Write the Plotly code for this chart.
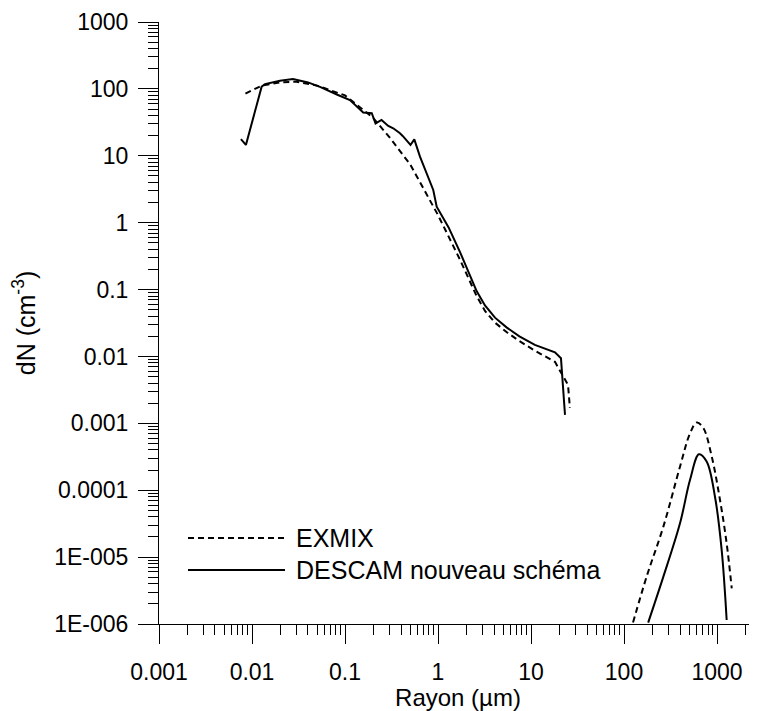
import plotly.graph_objects as go

# EXMIX (dashed) - aerosol mode
exmix_r1 = [0.0085, 0.0127, 0.02, 0.03, 0.05, 0.1, 0.2, 0.3, 0.5, 1.0, 1.73, 2.21, 2.6, 3.2, 4.1, 5.5, 7.5, 11.0, 18.1, 25.0, 26.2]
exmix_n1 = [85, 112, 125, 128, 112, 80, 37, 19, 7.5, 1.3, 0.277, 0.13, 0.08, 0.048, 0.032, 0.023, 0.017, 0.0122, 0.0083, 0.00375, 0.0017]
# EXMIX (dashed) - drop mode
exmix_r2 = [125, 175, 265, 400, 513, 605, 713, 877, 1076, 1270, 1440]
exmix_n2 = [1.05e-6, 5.1e-6, 2.86e-5, 2.25e-4, 7.1e-4, 1.03e-3, 8.5e-4, 3.2e-4, 7.2e-5, 1.6e-5, 3.4e-6]

# DESCAM nouveau schema (solid) - aerosol mode
descam_r1 = [0.0076, 0.0086, 0.0127, 0.0138, 0.02, 0.0276, 0.04, 0.0538, 0.084, 0.113, 0.157, 0.194,
             0.213, 0.247, 0.292, 0.330, 0.390, 0.417, 0.506, 0.556, 0.640, 0.755, 0.889, 0.968,
             1.3, 1.73, 2.21, 2.6, 3.2, 4.1, 5.5, 7.5, 11.0, 18.1, 21.0, 23.2]
descam_n1 = [17.8, 14.5, 108, 118, 132, 141, 125, 107, 81, 68, 44.4, 43.2,
             30.4, 34.3, 27.9, 25.8, 21.7, 19.8, 14.5, 17.6, 9.7, 5.5, 3.08, 1.73,
             0.85, 0.36, 0.16, 0.095, 0.058, 0.038, 0.027, 0.02, 0.0149, 0.0115, 0.0094, 0.00134]
# DESCAM nouveau schema (solid) - drop mode
descam_r2 = [182, 265, 400, 513, 640, 774, 951, 1122, 1270]
descam_n2 = [1.05e-6, 5.1e-6, 3.2e-5, 1.43e-4, 3.45e-4, 2.68e-4, 8.0e-5, 1.28e-5, 1.15e-6]

x_tickvals = [0.001, 0.01, 0.1, 1, 10, 100, 1000]
x_ticktext = ["0.001", "0.01", "0.1", "1", "10", "100", "1000"]
y_tickvals = [1e-6, 1e-5, 1e-4, 1e-3, 1e-2, 1e-1, 1, 10, 100, 1000]
y_ticktext = ["1E-006", "1E-005", "0.0001", "0.001", "0.01", "0.1", "1", "10", "100", "1000"]

legend_names = ["EXMIX", "DESCAM nouveau schéma"]

FONT = "Liberation Sans, Arial, sans-serif"

fig = go.Figure()
line_dash = dict(color="black", width=2, dash="6px,4px")
line_solid = dict(color="black", width=2)
line_dash_s = dict(color="black", width=2, dash="6px,4px", shape="spline", smoothing=1)
line_solid_s = dict(color="black", width=2, shape="spline", smoothing=1)
fig.add_trace(go.Scatter(x=exmix_r1, y=exmix_n1, mode="lines", line=line_dash, name=legend_names[0], showlegend=False))
fig.add_trace(go.Scatter(x=exmix_r2, y=exmix_n2, mode="lines", line=line_dash_s, name=legend_names[0], showlegend=False))
fig.add_trace(go.Scatter(x=descam_r1, y=descam_n1, mode="lines", line=line_solid, name=legend_names[1], showlegend=False))
fig.add_trace(go.Scatter(x=descam_r2, y=descam_n2, mode="lines", line=line_solid_s, name=legend_names[1], showlegend=False))

def minor_vals(lo, hi):
    vals = []
    for e in range(lo, hi + 1):
        for m in range(2, 10):
            vals.append(m * 10.0 ** e)
    return vals

fig.update_xaxes(
    type="log", range=[-3, 3.43],
    tickmode="array", tickvals=x_tickvals, ticktext=x_ticktext,
    ticks="outside", ticklen=19, tickwidth=1, tickcolor="black",
    showline=True, linecolor="black", linewidth=1,
    showgrid=False, zeroline=False, automargin=False,
    ticklabelstandoff=8,
    minor=dict(tickmode="array", tickvals=minor_vals(-3, 3), ticks="outside", ticklen=10,
               tickwidth=1, tickcolor="black", showgrid=False),
    tickfont=dict(family=FONT, size=23, color="black"),
    title=dict(text="Rayon (µm)", font=dict(family=FONT, size=24, color="black"), standoff=2),
)
fig.update_yaxes(
    type="log", range=[-6, 3],
    tickmode="array", tickvals=y_tickvals, ticktext=y_ticktext,
    ticks="outside", ticklen=20, tickwidth=1, tickcolor="black",
    showline=True, linecolor="black", linewidth=1,
    showgrid=False, zeroline=False, automargin=False,
    ticklabelstandoff=5,
    minor=dict(tickmode="array", tickvals=minor_vals(-6, 2), ticks="outside", ticklen=10,
               tickwidth=1, tickcolor="black", showgrid=False),
    tickfont=dict(family=FONT, size=23, color="black"),
    title=dict(text="dN (cm<sup>-3</sup>)", font=dict(family=FONT, size=25, color="black"), standoff=18),
)

# legend drawn manually (long line samples)
leg_y = [0.1429, 0.0897]
for i in range(2):
    fig.add_shape(type="line", xref="paper", yref="paper", x0=0.0485, x1=0.2107, y0=leg_y[i], y1=leg_y[i],
                  line=dict(color="black", width=2, dash=("6px,4px" if i == 0 else "solid")))
    fig.add_annotation(xref="paper", yref="paper", x=0.2258, y=leg_y[i], text=legend_names[i],
                       showarrow=False, xanchor="left", yanchor="middle",
                       font=dict(family=FONT, size=25, color="black"))

fig.update_layout(
    width=749, height=703,
    margin=dict(l=151, r=0, t=14, b=87),
    plot_bgcolor="white", paper_bgcolor="white",
    showlegend=False,
)

fig.write_html("out.html")
